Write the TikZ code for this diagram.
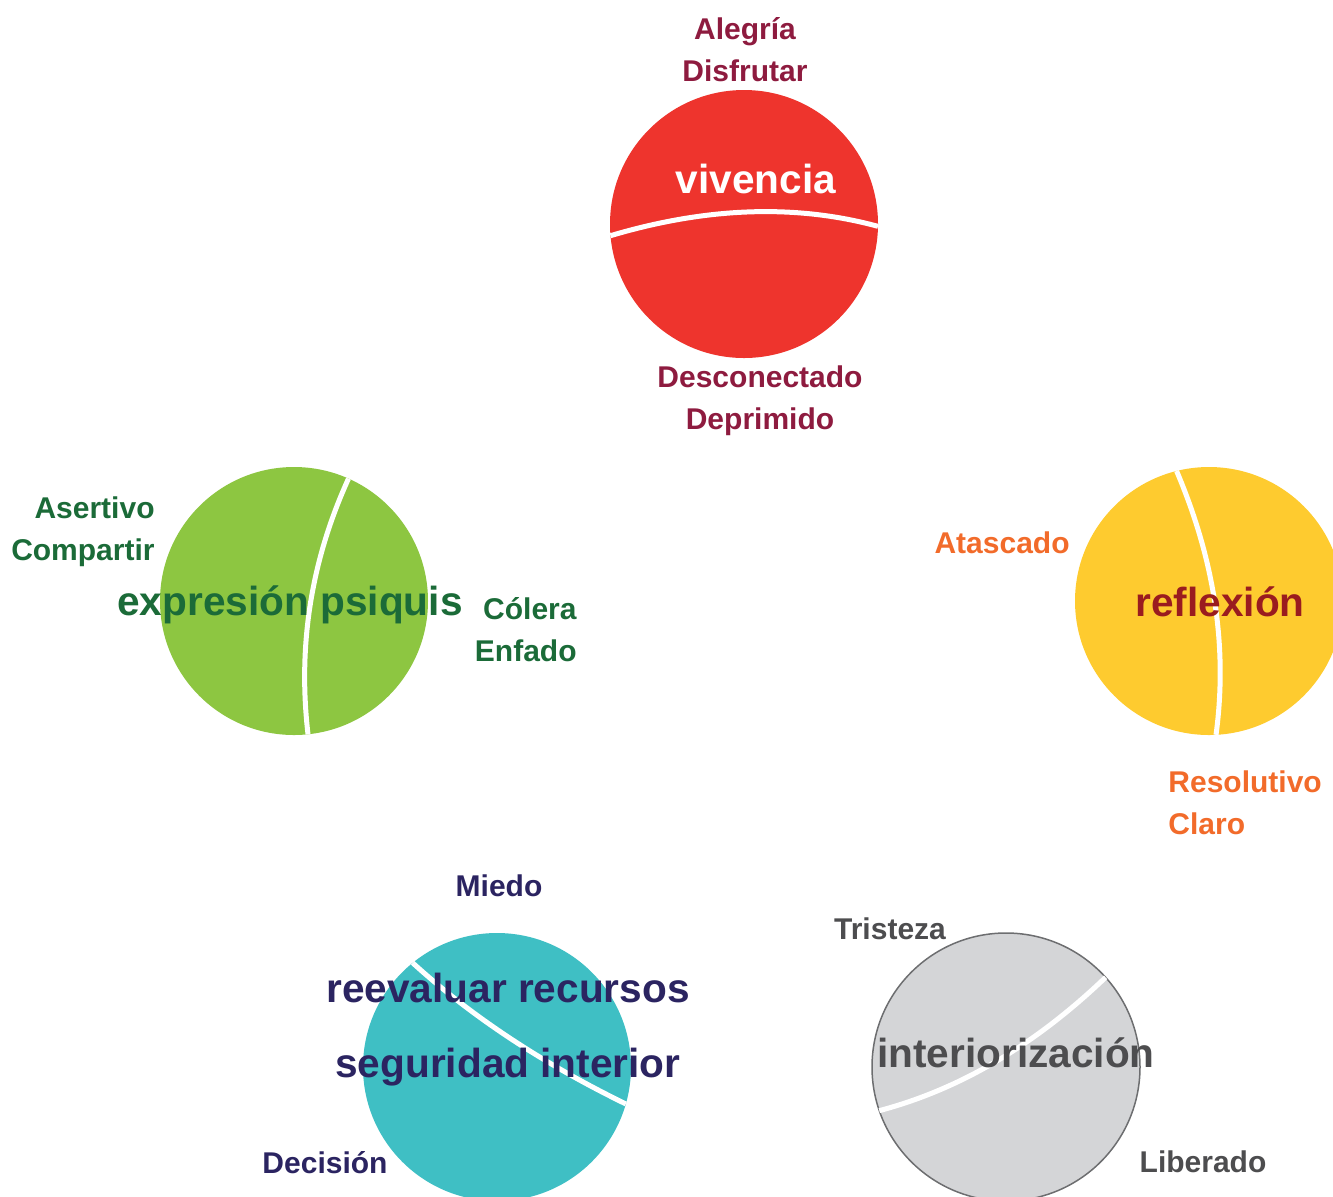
\documentclass[tikz,border=0pt]{standalone}
\usepackage{fontspec}
\setmainfont{Liberation Sans}

\definecolor{vivred}{HTML}{EE342D}
\definecolor{psigreen}{HTML}{8DC641}
\definecolor{refyellow}{HTML}{FECB2F}
\definecolor{segteal}{HTML}{3FBFC4}
\definecolor{intgray}{HTML}{D4D5D7}
\definecolor{intline}{HTML}{6D6E70}
\definecolor{txtmaroon}{HTML}{8E1B3F}
\definecolor{txtgreen}{HTML}{1B6B38}
\definecolor{txtorange}{HTML}{F26B2A}
\definecolor{txtref}{HTML}{9A1C1F}
\definecolor{txtnavy}{HTML}{2B2461}
\definecolor{txtgray}{HTML}{4D4D4F}

\tikzset{
  disc/.style={circle, minimum size=134pt, inner sep=0pt, outer sep=0pt},
  cut/.style={draw=white, line width=2.5pt},
  tag/.style={font=\bfseries\fontsize{15}{21}\selectfont, inner sep=0pt, anchor=base},
  big/.style={font=\bfseries\fontsize{20.3}{24}\selectfont, inner sep=0pt, anchor=base}
}

\begin{document}
\begin{tikzpicture}[x=0.5pt, y=-0.5pt]
  \useasboundingbox (0,0) rectangle (1333,1196);

  % circles
  \node[disc, fill=vivred] (viv) at (744,224) {};
  \node[disc, fill=psigreen] (psi) at (294,601) {};
  \node[disc, fill=refyellow] (ref) at (1209,601) {};
  \node[disc, fill=segteal] (seg) at (497,1067) {};
  \node[disc, fill=intgray, draw=intline, line width=0.75pt] (int) at (1006,1067) {};

  % white cuts
  \draw[cut] (viv.185.6) .. controls (707,207) and (796,204) .. (viv.-1.3);
  \draw[cut] (psi.66.5) .. controls (310,563) and (298,648) .. (psi.276.4);
  \draw[cut] (ref.104) .. controls (1214,559) and (1228,646) .. (ref.273.4);
  \draw[cut] (seg.129.3) .. controls (471,1016) and (542,1063) .. (seg.344.3);
  \draw[cut] (int.199.7) .. controls (961,1089) and (1036,1044) .. (int.42.9);

  % labels
  \node[tag, text=txtmaroon, align=center] (alegria) at (745,81) {Alegría\\Disfrutar};
  \node[big, text=white] (vivencia) at (756,193) {vivencia};
  \node[tag, text=txtmaroon, align=center] (descon) at (760,429) {Desconectado\\Deprimido};

  \node[tag, text=txtgreen, align=right, anchor=base east] (asertivo) at (155,560) {Asertivo\\Compartir};
  \node[big, text=txtgreen] (expresion) at (290,615) {expresión psiquis};
  \node[tag, text=txtgreen, align=right, anchor=base east] (colera) at (577,661) {Cólera\\Enfado};

  \node[tag, text=txtorange, anchor=base east] (atascado) at (1070,553) {Atascado};
  \node[big, text=txtref] (reflexion) at (1220,616) {reflexión};
  \node[tag, text=txtorange, align=left, anchor=base west] (resolutivo) at (1168,834) {Resolutivo\\Claro};

  \node[tag, text=txtnavy] (miedo) at (499,896) {Miedo};
  \node[big, text=txtnavy] (reevaluar) at (508,1002) {reevaluar recursos};
  \node[big, text=txtnavy] (seguridad) at (508,1077) {seguridad interior};
  \node[tag, text=txtnavy] (decision) at (325,1173) {Decisión};

  \node[tag, text=txtgray] (tristeza) at (890,939) {Tristeza};
  \node[big, text=txtgray] (interior) at (1016,1067) {interiorización};
  \node[tag, text=txtgray] (liberado) at (1203,1172) {Liberado};
\end{tikzpicture}
\end{document}
